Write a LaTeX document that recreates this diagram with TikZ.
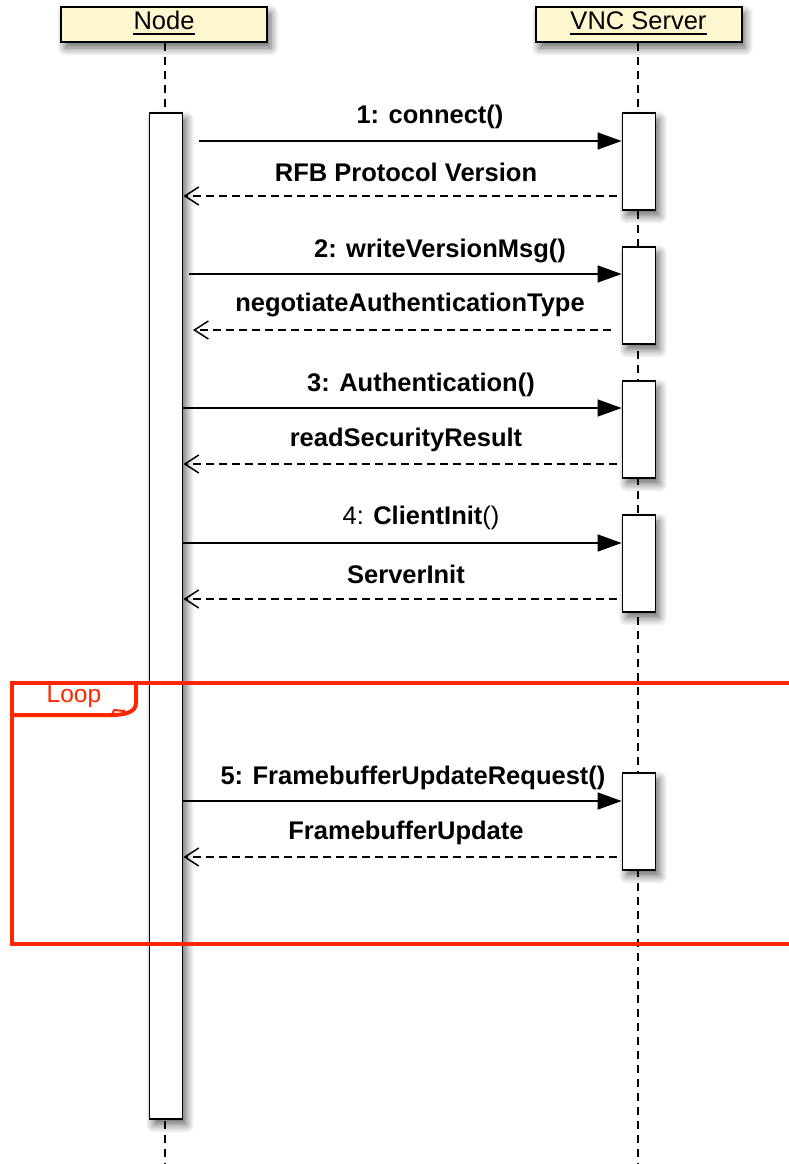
\documentclass[tikz,border=0pt]{standalone}
\usepackage{fontspec}
\setmainfont{Liberation Sans}
\usetikzlibrary{arrows.meta,shadows.blur,calc}
\definecolor{hdr}{RGB}{255,247,208}
\definecolor{loopred}{RGB}{255,38,0}
\begin{document}
\begin{tikzpicture}[x=1pt,y=-1pt,
  shadowed/.style={blur shadow={shadow xshift=4pt,shadow yshift=-6pt,shadow blur radius=8pt,shadow blur steps=8,shadow opacity=60}},
  head/.style={draw,line width=2pt,fill=hdr,minimum width=206pt,minimum height=35pt,inner sep=0pt,shadowed},
  htext/.style={inner sep=0pt,anchor=base,font=\fontsize{25.5}{30}\selectfont},
  act/.style={draw,line width=1.8pt,fill=white,minimum width=33pt,inner sep=0pt,anchor=north,shadowed},
  life/.style={line width=1.5pt,dash pattern=on 8pt off 6pt},
  call/.style={line width=1.5pt,-{Triangle[length=24pt,width=17pt]}},
  ret/.style={line width=1.5pt,dash pattern=on 8pt off 5pt,-{Straight Barb[length=14pt,width=18pt,line width=1.5pt]}},
  lbl/.style={inner sep=0pt,font=\fontsize{25.5}{30}\selectfont\bfseries},
  lbln/.style={inner sep=0pt,font=\fontsize{25.5}{30}\selectfont},
  frame/.style={draw=loopred,line width=4pt}
]
\useasboundingbox (0,0) rectangle (788,1164);

% headers
\node[head] (hN) at (164,24.5) {};
\node[head] (hV) at (638.5,24.5) {};
\node[htext] (tN) at (164,29.5) {Node};
\node[htext] (tV) at (638.5,29.5) {VNC Server};
\draw[line width=2.3pt] ([yshift=-4.5pt]tN.base west) -- ([yshift=-4.5pt]tN.base east);
\draw[line width=2.3pt] ([yshift=-4.5pt]tV.base west) -- ([yshift=-4.5pt]tV.base east);

% lifelines
\coordinate (eN) at (165,1164);
\coordinate (eV) at (638,1164);
\draw[life] (hN.south -| eN) -- (eN);
\draw[life] (hV.south -| eV) -- (eV);

% activations
\node[act,minimum height=1006pt] (aN) at (166,112) {};
\node[act,minimum height=97pt] (s1) at (639,112) {};
\node[act,minimum height=97pt] (s2) at (639,246) {};
\node[act,minimum height=97pt] (s3) at (639,380) {};
\node[act,minimum height=97pt] (s4) at (639,514) {};
\node[act,minimum height=97pt] (s5) at (639,772) {};

% messages
\coordinate (c1) at (199,141);
\coordinate (r1) at (617,196);
\coordinate (c2) at (189,274);
\coordinate (r2) at (611,330);
\coordinate (t2) at (193,330);
\coordinate (c3) at (aN.east |- 0,408);
\coordinate (r3) at (617,464);
\coordinate (c4) at (aN.east |- 0,543);
\coordinate (r4) at (617,599);
\coordinate (c5) at (aN.east |- 0,801);
\coordinate (r5) at (617,857);

\draw[call] (c1) -- (s1.west |- c1);
\draw[ret] (r1) -- (aN.east |- r1);
\draw[call] (c2) -- (s2.west |- c2);
\draw[ret] (r2) -- (t2);
\draw[call] (c3) -- (s3.west |- c3);
\draw[ret] (r3) -- (aN.east |- r3);
\draw[call] (c4) -- (s4.west |- c4);
\draw[ret] (r4) -- (aN.east |- r4);
\draw[call] (c5) -- (s5.west |- c5);
\draw[ret] (r5) -- (aN.east |- r5);

\node[lbl] (l1) at (430,117) {1: connect()};
\node[lbl] (l1r) at (406,172) {RFB Protocol Version};
\node[lbl] (l2) at (440,251) {2: writeVersionMsg()};
\node[lbl] (l2r) at (410,305) {negotiateAuthenticationType};
\node[lbl] (l3) at (421,385) {3: Authentication()};
\node[lbl] (l3r) at (406,440) {readSecurityResult};
\node[lbln] (l4) at (421,518) {4: \textbf{ClientInit}()};
\node[lbl] (l4r) at (406,574) {ServerInit};
\node[lbl] (l5) at (413,778) {5: FramebufferUpdateRequest()};
\node[lbl] (l5r) at (406,833) {FramebufferUpdate};

% loop frame
\coordinate (fTL) at (12,683);
\coordinate (fBR) at (806,944);
\draw[frame] (fTL) rectangle (fBR);
\draw[frame,line join=round] (fTL |- 0,715) -- (112,715) .. controls (125,715) and (136,712) .. (136,703) -- (136,683);
\draw[draw=loopred,line width=2pt,line join=round] (112,715) -- (114,710) -- (125,711);
\node[inner sep=0pt,text=loopred,font=\fontsize{24.5}{28}\selectfont] (lp) at (74,697) {Loop};
\end{tikzpicture}
\end{document}
